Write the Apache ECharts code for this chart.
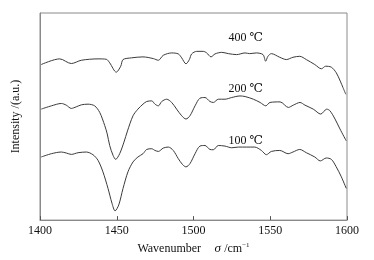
<!DOCTYPE html>
<html>
<head>
<meta charset="utf-8">
<script src="https://cdn.jsdelivr.net/npm/echarts@6/dist/echarts.min.js"></script>
<style>
  html, body { margin: 0; padding: 0; background: #fff; }
  #chart { width: 374px; height: 260px; }
</style>
</head>
<body>
<div id="chart"></div>
<script>
// wavenumber (cm-1) / intensity (a.u.) pairs
const wn400 = [1400.8, 1412.8, 1420.4, 1426.9, 1437.8, 1443.2, 1445.4, 1449.7, 1452.6, 1454.1, 1459.5, 1467.1, 1473.8, 1477.1, 1480.3, 1485.8, 1490.1, 1492.3, 1495.1, 1497.3, 1498.8, 1502.1, 1506.4, 1508.6, 1511.4, 1514.0, 1518.4, 1522.7, 1528.1, 1533.6, 1536.6, 1540.9, 1545.3, 1547.0, 1548.5, 1550.7, 1556.2, 1560.5, 1564.8, 1569.2, 1573.5, 1579.0, 1583.3, 1586.1, 1589.8, 1593.0, 1595.6, 1597.4, 1599.2]
const int400 = [157, 162.7, 158, 161.3, 162.7, 162.3, 158.7, 149.3, 155.3, 162, 163.7, 164.7, 163, 161.3, 166.3, 168.7, 167.7, 163.7, 157.7, 162, 167.7, 170.3, 170.3, 168.7, 164.7, 167.7, 169.3, 168, 167, 168.7, 168, 168.7, 167, 160.3, 165.3, 168, 164.3, 162, 164.3, 165.3, 162, 157, 152.7, 155.3, 154.3, 148.7, 140.3, 133.7, 127]

const wn200 = [1400.8, 1407.4, 1413.9, 1417.1, 1420.4, 1423.6, 1426.9, 1431.3, 1435.6, 1438.9, 1442.2, 1443.8, 1445.4, 1447.6, 1449.3, 1451.9, 1454.7, 1457.0, 1460.6, 1463.8, 1467.1, 1469.5, 1472.8, 1474.9, 1477.1, 1479.3, 1482.5, 1485.8, 1489.0, 1492.3, 1495.1, 1497.7, 1501.0, 1504.2, 1507.5, 1510.7, 1512.9, 1516.2, 1520.5, 1524.9, 1530.3, 1533.6, 1539.0, 1543.4, 1547.1, 1549.8, 1556.4, 1561.8, 1565.0, 1569.4, 1572.6, 1578.0, 1582.9, 1586.8, 1588.9, 1592.2, 1595.4, 1599.5]
const int200 = [112, 115.3, 117.7, 116, 112.7, 114.3, 116.3, 117, 115.3, 108.7, 95.3, 87, 75.3, 65.3, 61.3, 67, 78.7, 90, 105.3, 112, 117, 119.7, 120.3, 117, 115.3, 119.7, 122, 118.7, 112, 105.3, 102, 105.3, 115.3, 123, 123.7, 119.7, 118.7, 122, 122, 123.7, 125.3, 124.7, 122, 118.7, 115.3, 118.7, 119.3, 113.7, 116, 118.7, 116, 112, 107, 112, 110.3, 102, 92, 80]

const wn100 = [1400.8, 1407.4, 1413.9, 1417.1, 1420.4, 1424.8, 1430.2, 1434.5, 1437.8, 1441.0, 1444.3, 1446.9, 1448.9, 1451.3, 1454.1, 1457.3, 1460.6, 1463.8, 1467.1, 1469.5, 1472.8, 1474.9, 1477.1, 1480.3, 1483.6, 1486.8, 1490.1, 1492.9, 1495.1, 1497.7, 1501.0, 1504.2, 1507.5, 1510.7, 1512.9, 1516.2, 1520.5, 1524.9, 1529.2, 1534.7, 1539.9, 1544.2, 1547.5, 1550.7, 1556.2, 1561.6, 1564.8, 1569.2, 1573.5, 1579.0, 1582.6, 1586.5, 1589.8, 1593.0, 1596.3, 1599.5]
const int100 = [63.7, 67, 68.7, 67.7, 66.3, 68, 68.7, 66, 60.3, 48.7, 32, 17, 9.3, 15.3, 32, 48.7, 58.7, 63.7, 67, 71.3, 72, 70.3, 69.3, 72.7, 73.7, 70.3, 62, 56, 53.7, 57, 67, 74.7, 75.3, 71.3, 71, 75.3, 74.7, 73, 73.7, 73.7, 73.7, 70.3, 66, 69.3, 70.3, 67, 68.7, 71.3, 68, 63.7, 59.7, 62.7, 61.3, 53.7, 43.7, 32]

const curveNames = ['100 ℃', '200 ℃', '400 ℃']
const labelAt = [[1534, 80], [1534, 132], [1534, 184]]

const xTicks = [1400, 1450, 1500, 1550, 1600]

const zip = (xs, ys) => xs.map((x, i) => [x, ys[i]])
const curves = [zip(wn100, int100), zip(wn200, int200), zip(wn400, int400)]

const serif = '"Liberation Serif", "DejaVu Serif", serif'

const chart = echarts.init(document.getElementById('chart'), null, { renderer: 'canvas' })

chart.setOption({
  animation: false,
  grid: {
    left: 40, right: 27, top: 13, bottom: 38,
    show: true, borderColor: '#8a8a8a', borderWidth: 1
  },
  xAxis: {
    type: 'value',
    min: xTicks[0],
    max: xTicks[xTicks.length - 1],
    interval: 50,
    name: '{a|Wavenumber}    {b|σ} {a|/cm}{s|−1}',
    nameLocation: 'middle',
    nameGap: 19,
    nameTextStyle: {
      rich: {
        a: { fontFamily: serif, fontSize: 12, color: '#111' },
        b: { fontFamily: serif, fontSize: 13, fontStyle: 'italic', color: '#111' },
        s: { fontFamily: serif, fontSize: 7, color: '#111', verticalAlign: 'top', padding: [0, 0, 6, 0] }
      }
    },
    axisLine: { lineStyle: { color: '#8a8a8a', width: 1 } },
    axisTick: { inside: true, length: 4, lineStyle: { color: '#555' } },
    axisLabel: {
      fontFamily: serif, fontSize: 12, color: '#111', margin: 5,
      formatter: (v) => String(v)
    },
    splitLine: { show: false }
  },
  yAxis: {
    type: 'value',
    min: 0,
    max: 209,
    name: 'Intensity /(a.u.)',
    nameLocation: 'middle',
    nameGap: 18,
    nameTextStyle: { fontFamily: serif, fontSize: 12, color: '#111' },
    axisLine: { show: true, lineStyle: { color: '#8a8a8a' } },
    axisTick: { show: false },
    axisLabel: { show: false },
    splitLine: { show: false }
  },
  series: curves.map((data, i) => ({
    name: curveNames[i],
    type: 'line',
    data: data,
    smooth: 0.3,
    symbol: 'none',
    lineStyle: { color: '#3a3a3a', width: 1 },
    markPoint: {
      symbol: 'circle',
      symbolSize: 0,
      data: [{ coord: labelAt[i] }],
      label: {
        show: true,
        position: 'inside',
        formatter: curveNames[i],
        fontFamily: serif,
        fontSize: 12,
        color: '#111'
      }
    }
  }))
})
</script>
</body>
</html>
